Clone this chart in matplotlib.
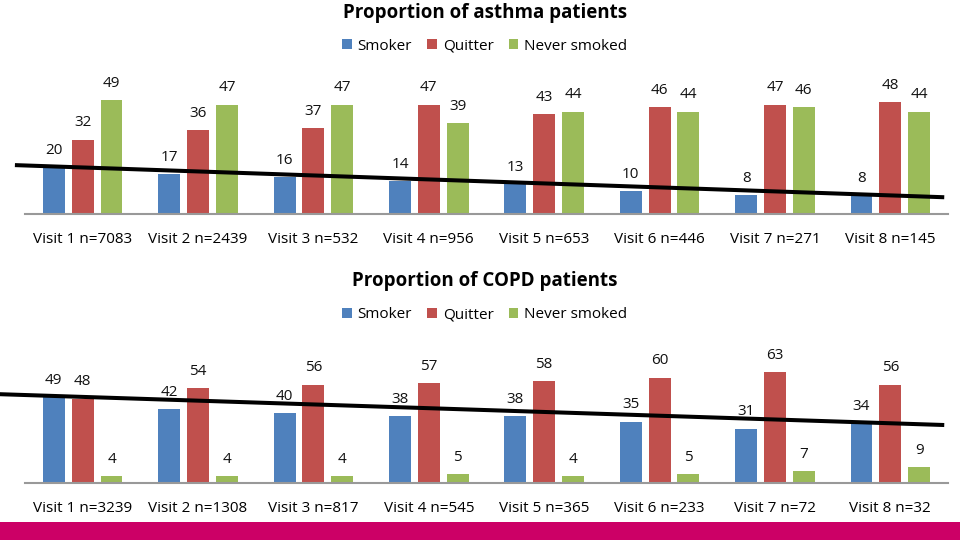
import numpy as np
import matplotlib
matplotlib.use('Agg')
import matplotlib.pyplot as plt
from matplotlib.patches import Patch, Rectangle

plt.rcParams['font.family'] = ['Open Sans', 'DejaVu Sans']

series = ['Smoker', 'Quitter', 'Never smoked']
colors = ['#4F81BD', '#C0504D', '#9BBB59']

asthma_labels = ['Visit 1 n=7083', 'Visit 2 n=2439', 'Visit 3 n=532', 'Visit 4 n=956',
                 'Visit 5 n=653', 'Visit 6 n=446', 'Visit 7 n=271', 'Visit 8 n=145']
asthma_smoker = [20, 17, 16, 14, 13, 10, 8, 8]
asthma_quitter = [32, 36, 37, 47, 43, 46, 47, 48]
asthma_never = [49, 47, 47, 39, 44, 44, 46, 44]

copd_labels = ['Visit 1 n=3239', 'Visit 2 n=1308', 'Visit 3 n=817', 'Visit 4 n=545',
               'Visit 5 n=365', 'Visit 6 n=233', 'Visit 7 n=72', 'Visit 8 n=32']
copd_smoker = [49, 42, 40, 38, 38, 35, 31, 34]
copd_quitter = [48, 54, 56, 57, 58, 60, 63, 56]
copd_never = [4, 4, 4, 5, 4, 5, 7, 9]


def draw_panel(fig, rect, ymax, title, title_y, legend_y, labels, values, x_start):
    ax = fig.add_axes(rect)
    x = np.arange(len(labels))
    offsets = [-0.25, 0.0, 0.25]
    for vals, off, col in zip(values, offsets, colors):
        bars = ax.bar(x + off, vals, width=0.19, color=col, zorder=2)
        for b, v in zip(bars, vals):
            ax.annotate(str(v), (b.get_x() + b.get_width() / 2, v),
                        xytext=(0, 12), textcoords='offset points',
                        ha='center', va='center', fontsize=11, color='#111111',
                        annotation_clip=False, zorder=4)

    # trend line through first and last smoker values
    sm = values[0]
    slope = (sm[-1] - sm[0]) / (len(sm) - 1)
    xl = np.array([x_start, len(sm) - 0.55])
    ax.plot(xl, sm[0] + slope * xl, color='black', lw=2.9, clip_on=False, zorder=3)

    ax.set_xlim(-0.5, len(labels) - 0.5)
    ax.set_ylim(0, ymax)
    ax.set_xticks(x)
    ax.set_xticklabels(labels, fontsize=11)
    ax.tick_params(axis='x', length=0, pad=13)
    ax.set_yticks([])
    for s in ['top', 'right', 'left']:
        ax.spines[s].set_visible(False)
    ax.spines['bottom'].set_color('#999999')
    ax.spines['bottom'].set_linewidth(1.5)

    fig.text(0.505, title_y, title, ha='center', va='center',
             fontsize=13.5, fontweight='bold')
    handles = [Patch(facecolor=c, label=s) for c, s in zip(colors, series)]
    fig.legend(handles=handles, loc='center', bbox_to_anchor=(0.505, legend_y),
               ncol=3, frameon=False, fontsize=11, handlelength=0.6,
               handleheight=0.6, handletextpad=0.4, columnspacing=1.0)
    return ax


fig = plt.figure(figsize=(9.6, 5.4), dpi=100)

draw_panel(fig, [25 / 960, 1 - 214 / 540, 923 / 960, 128 / 540], 55,
           'Proportion of asthma patients', 1 - 13 / 540, 1 - 46 / 540,
           asthma_labels, [asthma_smoker, asthma_quitter, asthma_never], -0.57)

draw_panel(fig, [25 / 960, 1 - 483 / 540, 923 / 960, 123 / 540], 70,
           'Proportion of COPD patients', 1 - 281 / 540, 1 - 315 / 540,
           copd_labels, [copd_smoker, copd_quitter, copd_never], -0.72)

fig.patches.append(Rectangle((0, 0), 1, 18 / 540, transform=fig.transFigure,
                             facecolor='#CC0066', edgecolor='none'))

fig.savefig('out.png', dpi=100)
